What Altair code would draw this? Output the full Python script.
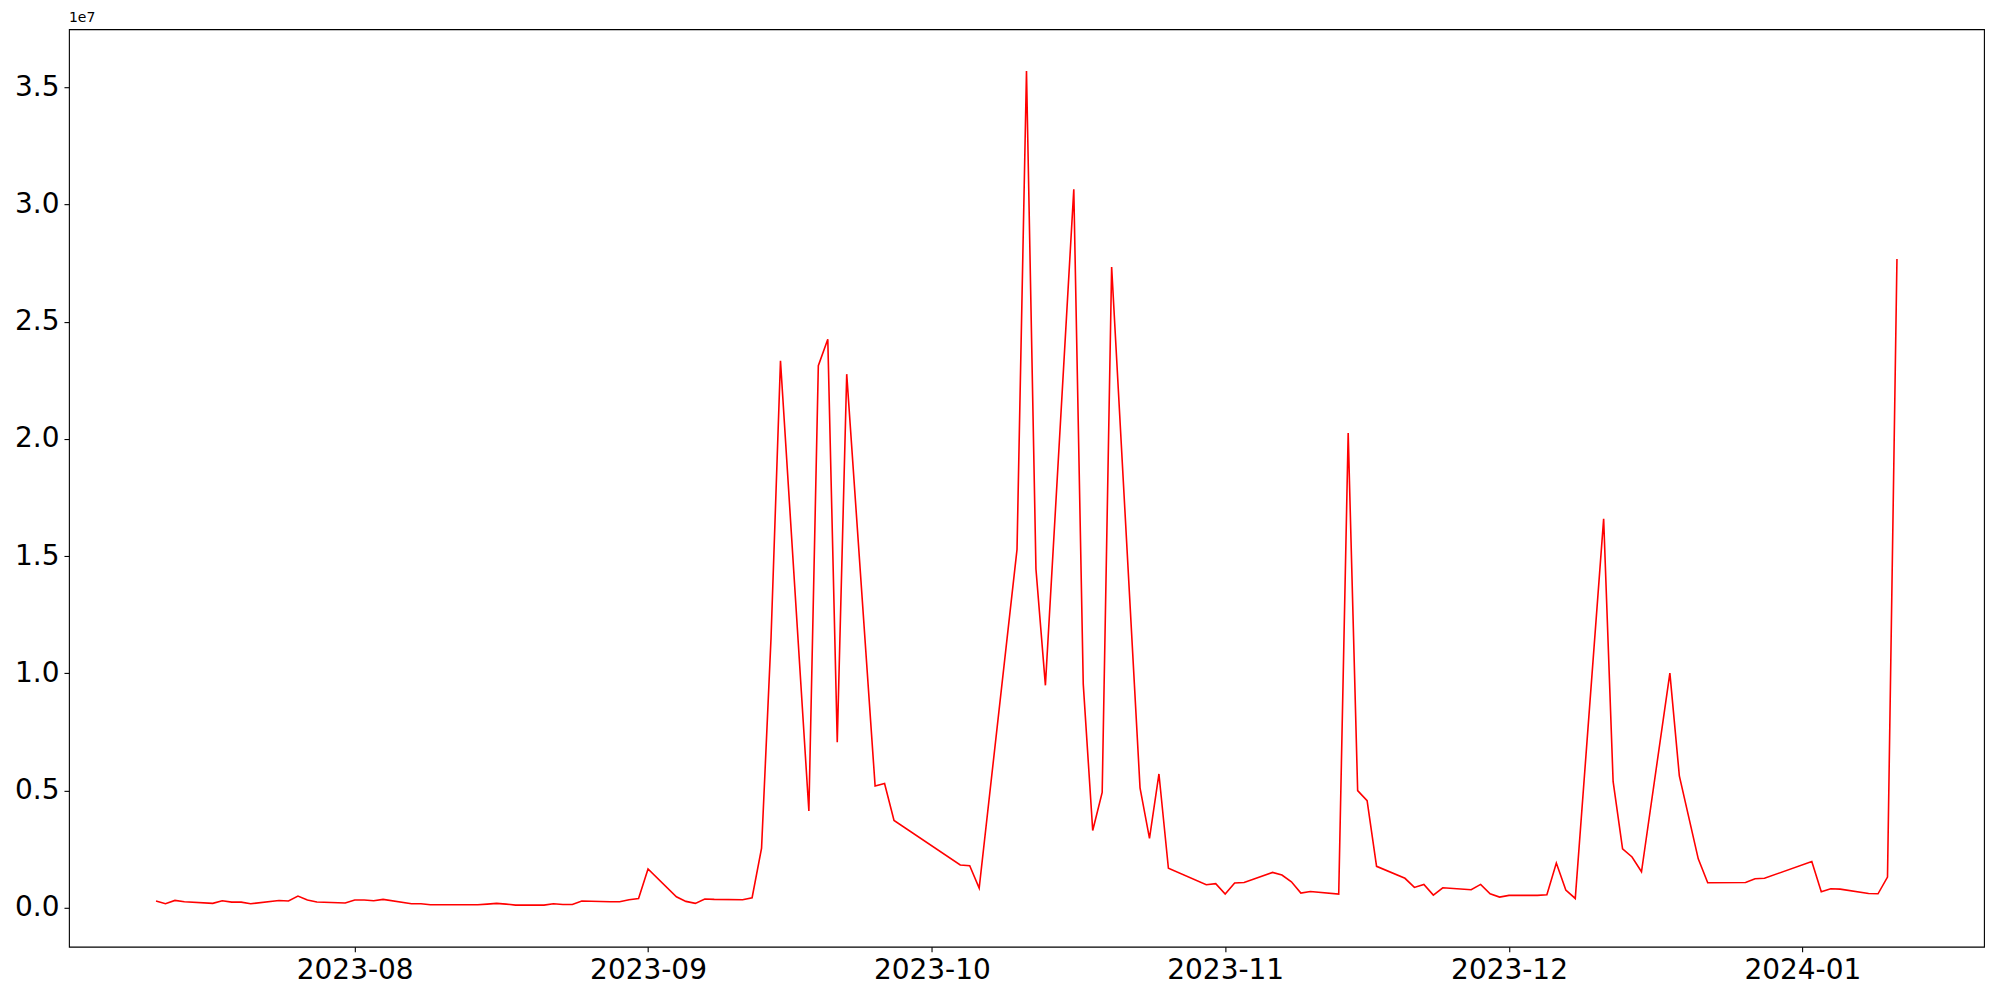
import altair as alt
import pandas as pd

dates = [
    "2023-07-11", "2023-07-12", "2023-07-13", "2023-07-14", "2023-07-17", "2023-07-18",
    "2023-07-19", "2023-07-20", "2023-07-21", "2023-07-24", "2023-07-25", "2023-07-26",
    "2023-07-27", "2023-07-28", "2023-07-31", "2023-08-01", "2023-08-02", "2023-08-03",
    "2023-08-04", "2023-08-07", "2023-08-08", "2023-08-09", "2023-08-10", "2023-08-11",
    "2023-08-14", "2023-08-15", "2023-08-16", "2023-08-17", "2023-08-18", "2023-08-21",
    "2023-08-22", "2023-08-23", "2023-08-24", "2023-08-25", "2023-08-28", "2023-08-29",
    "2023-08-30", "2023-08-31", "2023-09-01", "2023-09-04", "2023-09-05", "2023-09-06",
    "2023-09-07", "2023-09-08", "2023-09-11", "2023-09-12", "2023-09-13", "2023-09-14",
    "2023-09-15", "2023-09-18", "2023-09-19", "2023-09-20", "2023-09-21", "2023-09-22",
    "2023-09-25", "2023-09-26", "2023-09-27", "2023-10-04", "2023-10-05", "2023-10-06",
    "2023-10-10", "2023-10-11", "2023-10-12", "2023-10-13", "2023-10-16", "2023-10-17",
    "2023-10-18", "2023-10-19", "2023-10-20", "2023-10-23", "2023-10-24", "2023-10-25",
    "2023-10-26", "2023-10-30", "2023-10-31", "2023-11-01", "2023-11-02", "2023-11-03",
    "2023-11-06", "2023-11-07", "2023-11-08", "2023-11-09", "2023-11-10", "2023-11-13",
    "2023-11-14", "2023-11-15", "2023-11-16", "2023-11-17", "2023-11-20", "2023-11-21",
    "2023-11-22", "2023-11-23", "2023-11-24", "2023-11-27", "2023-11-28", "2023-11-29",
    "2023-11-30", "2023-12-01", "2023-12-04", "2023-12-05", "2023-12-06", "2023-12-07",
    "2023-12-08", "2023-12-11", "2023-12-12", "2023-12-13", "2023-12-14", "2023-12-15",
    "2023-12-18", "2023-12-19", "2023-12-21", "2023-12-22", "2023-12-26", "2023-12-27",
    "2023-12-28", "2024-01-02", "2024-01-03", "2024-01-04", "2024-01-05", "2024-01-08",
    "2024-01-09", "2024-01-10", "2024-01-11",
]

values = [
    290000, 175000, 316000, 260000, 190000, 300000,
    245000, 245000, 175000, 316000, 290000, 503000,
    333000, 247000, 205000, 333000, 333000, 300000,
    360000, 175000, 175000, 132000, 132000, 132000,
    132000, 160000, 190000, 160000, 118000, 118000,
    175000, 146000, 146000, 290000, 260000, 260000,
    345000, 400000, 1655000, 473000, 275000, 190000,
    375000, 360000, 345000, 430000, 2550000, 11500000,
    23330000, 4130000, 23120000, 24250000, 7060000, 22760000,
    5200000, 5300000, 3730000, 1830000, 1800000, 845000,
    15290000, 35690000, 14450000, 9490000, 30640000, 9540000,
    3300000, 4920000, 27330000, 5120000, 2960000, 5710000,
    1690000, 985000, 1030000, 587000, 1060000, 1080000,
    1510000, 1400000, 1110000, 630000, 700000, 587000,
    20250000, 5000000, 4570000, 1770000, 1260000, 872000,
    1000000, 545000, 857000, 772000, 1000000, 600000,
    460000, 530000, 530000, 560000, 1910000, 760000,
    400000, 16590000, 5390000, 2520000, 2170000, 1540000,
    10010000, 5630000, 2090000, 1070000, 1080000, 1240000,
    1260000, 1980000, 687000, 815000, 800000, 615000,
    600000, 1310000, 27670000,
]

y_ticks = [0, 5000000, 10000000, 15000000, 20000000, 25000000, 30000000, 35000000]
x_tick_months = [(2023, 8), (2023, 9), (2023, 10), (2023, 11), (2023, 12), (2024, 1)]
offset_label = ["1e7"]

df = pd.DataFrame({"date": dates, "value": values})

x_vals = [alt.DateTime(year=y, month=m, date=1, utc=True) for y, m in x_tick_months]
x_dom = [
    alt.DateTime(year=2023, month=7, date=1, hours=19, minutes=12, utc=True),
    alt.DateTime(year=2024, month=1, date=20, hours=4, minutes=48, utc=True),
]

axis_common = dict(
    grid=False, domain=False, tickColor="black", tickSize=5, tickWidth=1.1,
    labelColor="black", labelFont="DejaVu Sans", labelFontSize=28, labelPadding=5,
    title=None,
)

line = alt.Chart(df).mark_line(color="#ff0000", strokeWidth=1.6, clip=True).encode(
    x=alt.X(
        "date:T",
        scale=alt.Scale(domain=x_dom, nice=False),
        axis=alt.Axis(values=x_vals, labelExpr="utcFormat(datum.value, '%Y-%m')", **axis_common),
    ),
    y=alt.Y(
        "value:Q",
        scale=alt.Scale(domain=[-1660000, 37470000], nice=False, zero=False),
        axis=alt.Axis(values=y_ticks, labelExpr="format(datum.value / 1e7, '.1f')", **axis_common),
    ),
)

txt = alt.Chart(pd.DataFrame({"t": offset_label})).mark_text(
    align="left", baseline="bottom", fontSize=14, font="DejaVu Sans", color="black"
).encode(x=alt.value(0), y=alt.value(-4), text="t:N")

chart = alt.layer(line, txt).properties(
    width=1916,
    height=918,
    autosize=alt.AutoSizeParams(type="none"),
    padding={"left": 61, "top": 21, "right": 8, "bottom": 40},
    background="white",
).configure_view(stroke="black", strokeWidth=1.1)

chart.save("out.html", embed_options={"renderer": "svg", "actions": False})
